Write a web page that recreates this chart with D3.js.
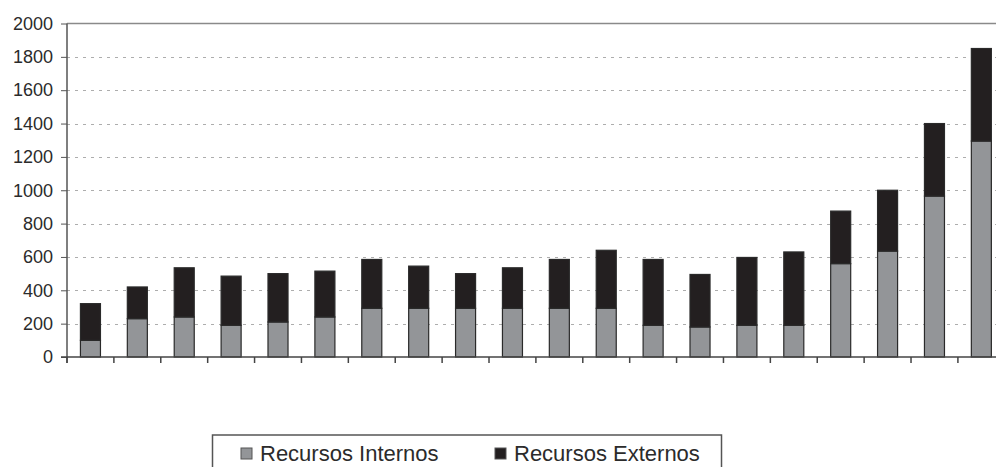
<!DOCTYPE html>
<html>
<head>
<meta charset="utf-8">
<script src="https://cdn.jsdelivr.net/npm/d3@7/dist/d3.min.js"></script>
<style>
  html, body { margin: 0; padding: 0; background: #fff; }
  svg { display: block; font-family: "Liberation Sans", Arial, sans-serif; }
</style>
</head>
<body>
<div id="chart"></div>
<script>
// Stacked bars: recursos internos (gray) + externos (black) = total
const categories = d3.range(1, 21).map(String);
const internos = [100, 230, 240, 190, 210, 240, 292, 292, 292, 292, 292, 292, 190, 180, 190, 190, 560, 635, 965, 1295];
const totales  = [320, 420, 535, 485, 500, 515, 585, 545, 500, 535, 585, 640, 585, 495, 597, 630, 875, 1000, 1400, 1850];
const externos = totales.map((t, i) => t - internos[i]);
const yTicks = [0, 200, 400, 600, 800, 1000, 1200, 1400, 1600, 1800, 2000];
const seriesNames = ["Recursos Internos", "Recursos Externos"];
const seriesColors = ["#939598", "#231f20"];

const W = 996, H = 467;
const margin = { left: 67, top: 23.5, bottom: 357 };
const plotRight = 1004.8;

const svg = d3.select("#chart").append("svg")
  .attr("width", W).attr("height", H);

const x = d3.scaleBand()
  .domain(categories)
  .range([margin.left, plotRight])
  .paddingInner(0.573)
  .paddingOuter(0.2865);

const y = d3.scaleLinear()
  .domain([0, 2000])
  .range([margin.bottom, margin.top]);

// --- Gridlines (dashed) ---
svg.append("g")
  .selectAll("line")
  .data(yTicks.filter(d => d > 0 && d < 2000))
  .join("line")
  .attr("x1", margin.left).attr("x2", W)
  .attr("y1", d => Math.round(y(d)) + 0.5).attr("y2", d => Math.round(y(d)) + 0.5)
  .attr("stroke", "#adadad")
  .attr("stroke-width", 1)
  .attr("stroke-dasharray", "3,5");

// top border at 2000
svg.append("line")
  .attr("x1", margin.left).attr("x2", W)
  .attr("y1", y(2000)).attr("y2", y(2000))
  .attr("stroke", "#8a8a8a").attr("stroke-width", 1.5);

// --- Stacked bars ---
const stack = d3.stack().keys(["internos", "externos"]);
const rows = categories.map((c, i) => ({ cat: c, internos: internos[i], externos: externos[i] }));
const layers = stack(rows);

svg.append("g")
  .selectAll("g")
  .data(layers)
  .join("g")
  .attr("fill", (d, i) => seriesColors[i])
  .selectAll("rect")
  .data(d => d)
  .join("rect")
  .attr("x", d => x(d.data.cat))
  .attr("y", d => y(d[1]))
  .attr("width", x.bandwidth())
  .attr("height", d => y(d[0]) - y(d[1]))
  .attr("stroke", "#2a2a2a")
  .attr("stroke-width", 1.2);

// --- Y axis ---
const yAxis = d3.axisLeft(y).tickValues(yTicks).tickFormat(d3.format("d")).tickSize(6).tickPadding(8);
const gy = svg.append("g")
  .attr("transform", `translate(${margin.left},0)`)
  .call(yAxis);
gy.select(".domain").attr("stroke", "#555").attr("stroke-width", 1.5)
  .attr("d", `M0,${y(2000)}V${margin.bottom + 6}`);
gy.selectAll(".tick line").attr("stroke", "#555");
gy.selectAll("text")
  .attr("fill", "#2b2b2b")
  .style("font-size", "18px");

// --- X axis (ticks at band boundaries, no labels) ---
const boundaries = categories.map(c => x(c) - x.step() * x.paddingInner() / 2);
const gx = svg.append("g");
gx.append("line")
  .attr("x1", margin.left - 6).attr("x2", W)
  .attr("y1", margin.bottom).attr("y2", margin.bottom)
  .attr("stroke", "#444").attr("stroke-width", 1.5);
gx.selectAll("line.tk")
  .data(boundaries)
  .join("line")
  .attr("class", "tk")
  .attr("x1", d => d).attr("x2", d => d)
  .attr("y1", margin.bottom).attr("y2", margin.bottom + 6)
  .attr("stroke", "#444").attr("stroke-width", 1.5);

// --- Legend ---
const lg = svg.append("g");
lg.append("rect")
  .attr("x", 212.5).attr("y", 435)
  .attr("width", 509).attr("height", 60)
  .attr("fill", "#fff")
  .attr("stroke", "#555").attr("stroke-width", 1.5);

const legendX = [241, 495];
seriesNames.forEach((name, i) => {
  lg.append("rect")
    .attr("x", legendX[i]).attr("y", 448)
    .attr("width", 11).attr("height", 11)
    .attr("fill", seriesColors[i])
    .attr("stroke", "#555").attr("stroke-width", 1);
  lg.append("text")
    .attr("x", legendX[i] + 19).attr("y", 461)
    .attr("fill", "#2b2b2b")
    .style("font-size", "22px")
    .text(name);
});
</script>
</body>
</html>
